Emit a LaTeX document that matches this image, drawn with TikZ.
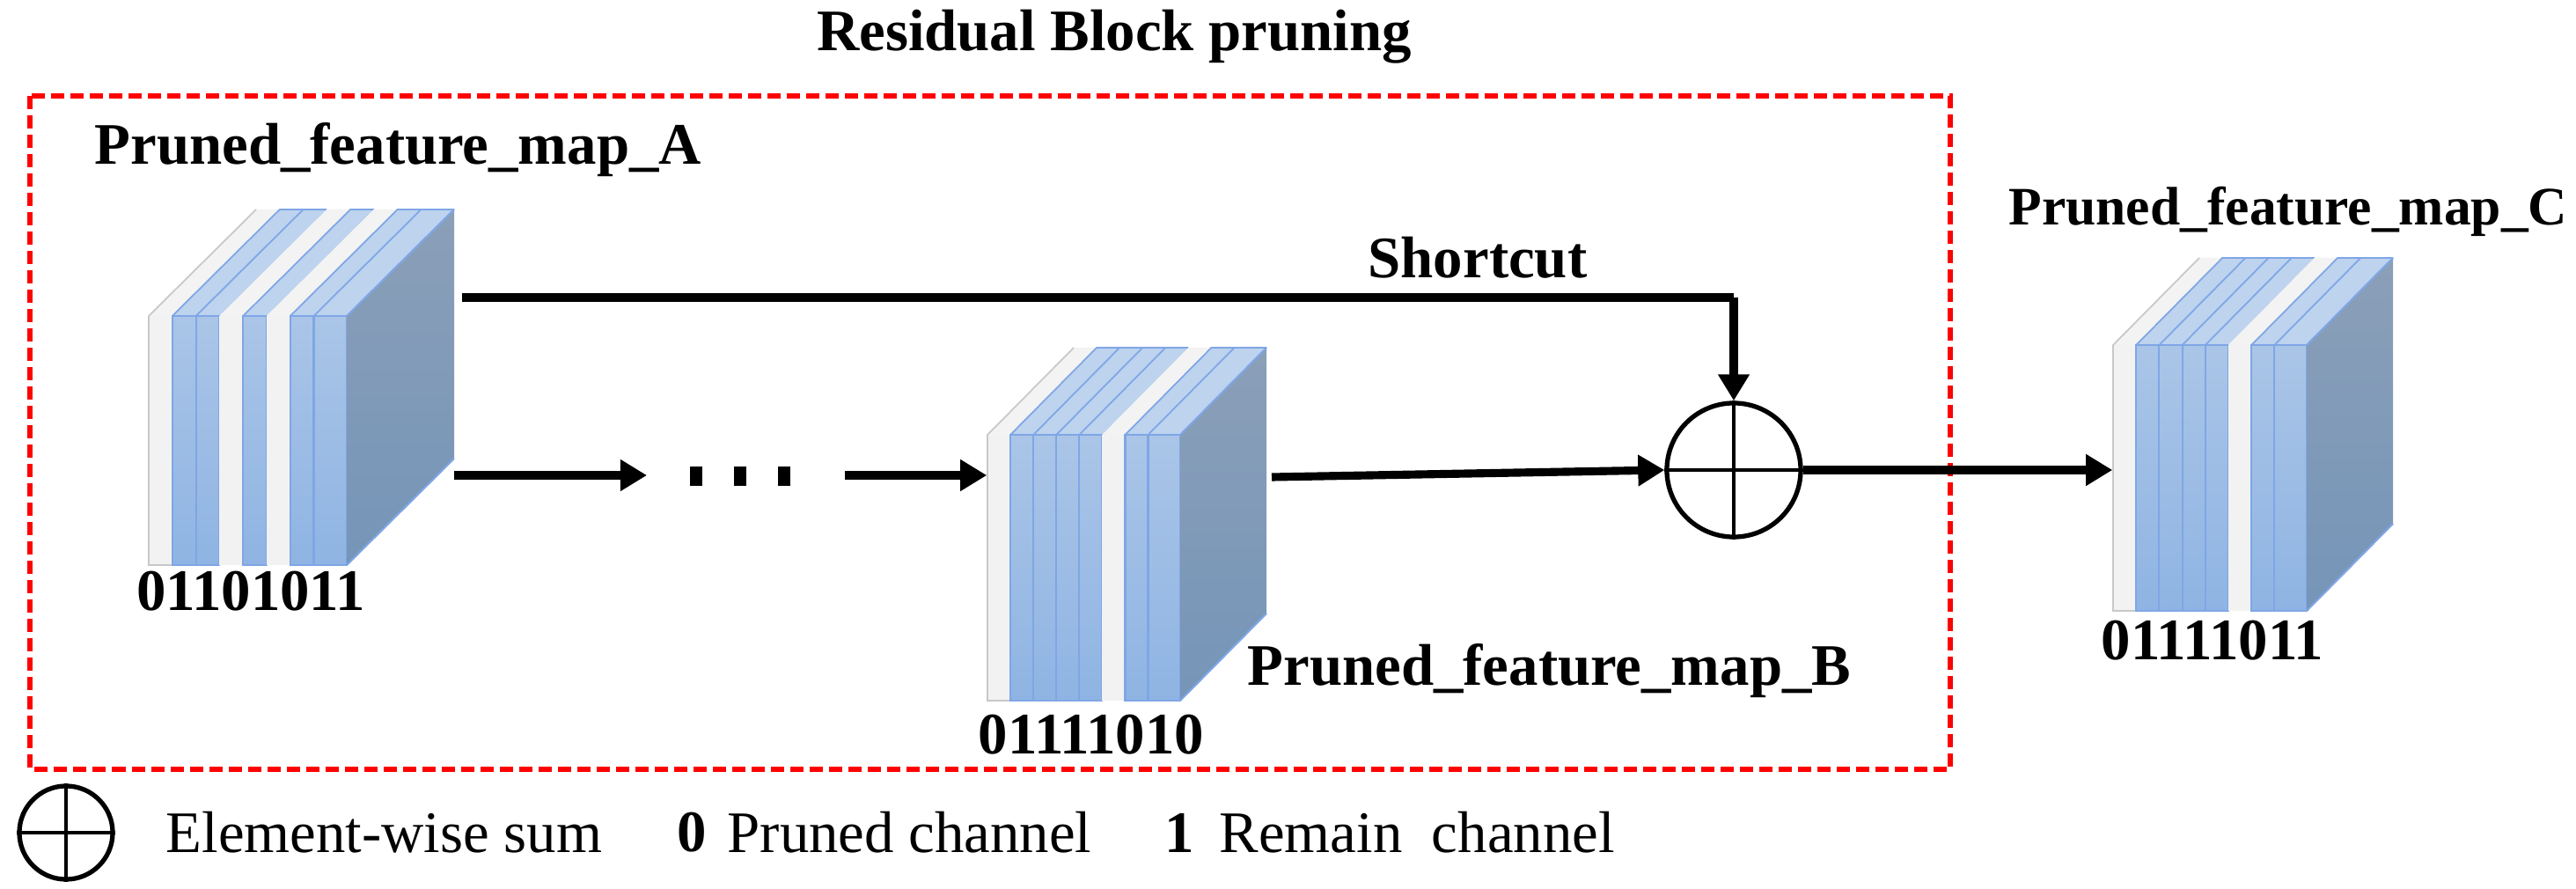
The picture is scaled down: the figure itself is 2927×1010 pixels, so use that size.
\documentclass[tikz,border=0pt]{standalone}
\usepackage{fontspec}
\setmainfont{Liberation Serif}
\usetikzlibrary{arrows.meta}
\definecolor{chtop}{HTML}{BDD3EE}
\definecolor{chf1}{HTML}{AAC5E7}
\definecolor{chf2}{HTML}{8FB4E3}
\definecolor{chb}{HTML}{7FA6E6}
\definecolor{wh}{HTML}{F2F2F2}
\definecolor{whb}{HTML}{C8C8C8}
\definecolor{sd1}{HTML}{8B9FB8}
\definecolor{sd2}{HTML}{7595B8}
\tikzset{
  lbl/.style={font=\fontsize{19}{22}\selectfont\bfseries, inner sep=0pt},
  txt/.style={font=\fontsize{19}{22}\selectfont, inner sep=0pt},
  arr/.style={line width=2.6pt, -{Triangle[length=0.3cm,width=0.34cm]}},
  box/.style={draw=none, inner sep=0pt, minimum width=#1},
}
% \fmapdraw{x0}{top}{W}{H}{dx}{dy}{pattern}
\newcommand{\fmapdraw}[7]{%
  \pgfmathsetmacro{\cw}{#3/8.4}
  \foreach \b [count=\i from 0] in {#7}{%
    \pgfmathsetmacro{\xa}{#1+\i*\cw}
    \pgfmathsetmacro{\xb}{ifthenelse(\i==7,#1+#3,#1+(\i+1)*\cw)}
    \ifnum\b=1
      \fill[chtop] (\xa,#2) -- (\xb,#2) -- (\xb+#5,#2-#6) -- (\xa+#5,#2-#6) -- cycle;
      \draw[chb,line width=0.5pt] (\xa,#2) -- (\xa+#5,#2-#6) -- (\xb+#5,#2-#6);
      \shade[top color=chf1,bottom color=chf2] (\xa,#2) rectangle (\xb,#2+#4);
      \draw[chb,line width=0.6pt] (\xa,#2) rectangle (\xb,#2+#4);
    \else
      \fill[wh!90!white] (\xa,#2) -- (\xb,#2) -- (\xb+#5,#2-#6) -- (\xa+#5,#2-#6) -- cycle;
      \fill[wh] (\xa,#2) rectangle (\xb,#2+#4);
      \ifnum\i=0 \draw[whb,line width=0.5pt] (\xa+#5,#2-#6) -- (\xa,#2) -- (\xa,#2+#4) -- (\xb,#2+#4);\fi
    \fi
  }
  \shade[top color=sd1,bottom color=sd2] (#1+#3,#2) -- (#1+#3+#5,#2-#6) -- (#1+#3+#5,#2+#4-#6) -- (#1+#3,#2+#4) -- cycle;
  \draw[chb,line width=0.6pt] (#1+#3,#2) -- (#1+#3+#5,#2-#6) (#1+#3,#2+#4) -- (#1+#3+#5,#2+#4-#6);
}
\begin{document}
\begin{tikzpicture}[x=0.01cm,y=-0.01cm]
\useasboundingbox (0,0) rectangle (2927,1010);
% dashed block
\draw[red, line width=1.5pt, dash pattern=on 0.15cm off 0.07cm] (34,109) rectangle (2216,874);
\node[lbl] (title) at (1266,42) {Residual Block pruning};
% maps
\fmapdraw{169}{359}{225}{283}{122}{121}{0,1,1,0,1,0,1,1}
\fmapdraw{1122}{494}{219}{302}{98}{99}{0,1,1,1,1,0,1,1}
\fmapdraw{2401}{392}{220}{302}{98}{99}{0,1,1,1,1,0,1,1}
\node[box=2.25cm] (A) at (281,500) {};
\node[box=2.19cm] (B) at (1231.5,645) {};
\node[box=2.2cm] (C) at (2511,543) {};
\node[lbl,anchor=west] (la) at (107,170) {Pruned\_feature\_map\_A};
\node[lbl,anchor=west] (lb) at (1417,762) {Pruned\_feature\_map\_B};
\node[lbl,anchor=east,font=\fontsize{17.5}{21}\selectfont\bfseries] (lc) at (2918,240) {Pruned\_feature\_map\_C};
\node[lbl] (ca) at (285,672) {01101011};
\node[lbl] (cb) at (1240,835) {01111010};
\node[lbl] (cc) at (2514,728) {01111011};
% sum
\node[circle, draw, line width=1.5pt, minimum size=1.52cm, inner sep=0pt] (S) at (1970,534) {};
\draw[line width=1.1pt] (S.north) -- (S.south) (S.west) -- (S.east);
% connectors
\coordinate (a1) at (525,338);
\coordinate (a2) at (516,540);
\coordinate (d1) at (735,540);
\coordinate (d2) at (960,540);
\coordinate (b1) at (1445,542);
\coordinate (sc) at (1970,338);
\draw[line width=2.8pt] (a1) -- (sc);
\draw[arr] (sc) -- (S.north);
\node[lbl] (st) at (1679,293) {Shortcut};
\draw[arr] (a2) -- (d1);
\foreach \xx in {791,841,891} \fill (\xx-7,530) rectangle (\xx+7,552);
\draw[arr] (d2) -- (B.west |- d2);
\draw[arr] (b1) -- (S.west);
\draw[arr] (S.east) -- (C.west |- S.east);
% legend
\node[circle, draw, line width=1.5pt, minimum size=1.06cm, inner sep=0pt] (L) at (75,946) {};
\draw[line width=1.1pt] (L.north) -- (L.south) (L.west) -- (L.east);
\node[txt,anchor=west] (l1) at (188,946) {Element-wise sum};
\node[lbl,anchor=west] (l2) at (769,946) {0};
\node[txt,anchor=west] (l3) at (826,946) {Pruned channel};
\node[lbl,anchor=west] (l4) at (1323,946) {1};
\node[txt,anchor=west] (l5) at (1385,946) {Remain\ \ channel};
\end{tikzpicture}
\end{document}
